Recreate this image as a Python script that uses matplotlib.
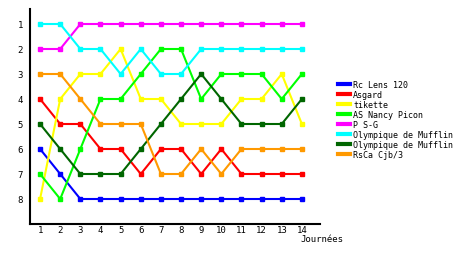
import matplotlib
matplotlib.use("Agg")
import matplotlib.pyplot as plt

journees = list(range(1, 15))
names = ["Rc Lens 120", "Asgard", "tikette", "AS Nancy Picon", "P S-G",
         "Olympique de Mufflin", "Olympique de Mufflin", "RsCa Cjb/3"]
colors = ["#0000ff", "#ff0000", "#ffff00", "#00ff00", "#ff00ff",
          "#00ffff", "#006600", "#ff9900"]
rc_lens = [6, 7, 8, 8, 8, 8, 8, 8, 8, 8, 8, 8, 8, 8]
asgard = [4, 5, 5, 6, 6, 7, 6, 6, 7, 6, 7, 7, 7, 7]
tikette = [8, 4, 3, 3, 2, 4, 4, 5, 5, 5, 4, 4, 3, 5]
nancy = [7, 8, 6, 4, 4, 3, 2, 2, 4, 3, 3, 3, 4, 3]
psg = [2, 2, 1, 1, 1, 1, 1, 1, 1, 1, 1, 1, 1, 1]
mufflin1 = [1, 1, 2, 2, 3, 2, 3, 3, 2, 2, 2, 2, 2, 2]
mufflin2 = [5, 6, 7, 7, 7, 6, 5, 4, 3, 4, 5, 5, 5, 4]
rsca = [3, 3, 4, 5, 5, 5, 7, 7, 6, 7, 6, 6, 6, 6]
series = [rc_lens, asgard, tikette, nancy, psg, mufflin1, mufflin2, rsca]
ranks = [1, 2, 3, 4, 5, 6, 7, 8]

plt.rcParams['font.family'] = ['DejaVu Sans Mono']
fig = plt.figure(figsize=(4.6, 2.55), dpi=100)
ax = fig.add_axes([30/460, 1-225/255, 290/460, 215/255])
handles = []
for vals, c, n in zip(series, colors, names):
    ax.plot(journees, vals, color=c, lw=1.5, marker='s', ms=3, mec=c, mfc=c)
    h, = ax.plot([], [], color=c, lw=3, label=n)
    handles.append(h)

ax.set_xlim(0.5, 14.9)
ax.set_ylim(9, 0.4)
ax.set_xticks(journees)
ax.set_yticks(ranks)
ax.tick_params(length=0, labelsize=6.5)
ax.tick_params(axis='x', pad=1)
ax.tick_params(axis='y', pad=5)
for s in ['top', 'right']:
    ax.spines[s].set_visible(False)
for s in ['left', 'bottom']:
    ax.spines[s].set_linewidth(1.5)
    ax.spines[s].set_color('black')
fig.text(300/460, 1-240/255, "Journées", fontsize=6.5, va='center', ha='left')

fig.legend(handles=handles, loc='upper left', bbox_to_anchor=(338/460, 1-81/255),
           frameon=False, fontsize=6, handlelength=1.5, handletextpad=0.3,
           labelspacing=0.12, borderpad=0, borderaxespad=0)
fig.savefig("out.png", dpi=100)
